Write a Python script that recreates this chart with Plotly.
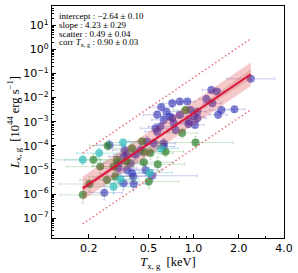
import numpy as np
import plotly.graph_objects as go

# ---------------- data (log10 values) ----------------
blue_log_T = [0.381, 0.118, 0.154, 0.085, 0.125, 0.185, 0.272, 0.163, -0.042, -0.092,
              -0.142, -0.216, -0.020, 0.025, -0.181, -0.243, -0.159, -0.199, -0.092, 0.002,
              0.025, -0.035, 0.009, -0.132, -0.254, -0.120, -0.243, -0.310, -0.266, -0.199,
              -0.199, -0.276, -0.595, -0.500, -0.443, -0.355, -0.388, -0.403, -0.560, -0.460,
              -0.466, -0.421, -0.500, -0.443, -0.410, -0.466, -0.321, -0.142, -0.221, -0.031,
              -0.399]
blue_log_L = [-1.22, -1.68, -1.75, -2.06, -2.23, -2.51, -2.48, -2.71, -2.16, -2.16,
              -2.23, -2.39, -2.51, -2.58, -2.58, -2.71, -2.78, -2.92, -2.71, -2.78,
              -2.85, -3.09, -3.13, -3.06, -3.27, -3.34, -3.41, -3.82, -3.89, -3.89,
              -4.03, -5.24, -5.94, -4.72, -4.37, -4.17, -4.37, -5.27, -3.96, -4.17,
              -4.44, -4.72, -4.93, -5.00, -5.13, -5.55, -5.00, -2.85, -3.20, -2.99,
              -5.58]
blue_err_T = [0.16, 0.06, 0.05, 0.05, 0.06, 0.08, 0.07, 0.06, 0.05, 0.07,
              0.06, 0.08, 0.05, 0.06, 0.07, 0.09, 0.06, 0.08, 0.05, 0.07,
              0.06, 0.05, 0.06, 0.07, 0.10, 0.06, 0.08, 0.12, 0.09, 0.08,
              0.07, 0.30, 0.12, 0.10, 0.09, 0.10, 0.08, 0.11, 0.09, 0.08,
              0.10, 0.09, 0.12, 0.08, 0.10, 0.09, 0.11, 0.06, 0.08, 0.06,
              0.10]
blue_err_L = [0.10, 0.12, 0.10, 0.15, 0.12, 0.15, 0.12, 0.15, 0.10, 0.12,
              0.15, 0.12, 0.10, 0.15, 0.12, 0.15, 0.12, 0.18, 0.12, 0.15,
              0.12, 0.15, 0.12, 0.18, 0.20, 0.15, 0.20, 0.20, 0.18, 0.20,
              0.18, 0.25, 0.30, 0.22, 0.20, 0.20, 0.22, 0.25, 0.20, 0.22,
              0.22, 0.25, 0.25, 0.22, 0.25, 0.28, 0.22, 0.12, 0.15, 0.12,
              0.28]

green_log_T = [-0.054, -0.076, 0.013, -0.332, -0.239, -0.187, -0.288, -0.738, -0.694, -0.667,
               -0.573, -0.622, -0.577, -0.522, -0.448, -0.510, -0.410, -0.343, -0.533, -0.299,
               -0.332]
green_log_L = [-2.51, -3.47, -3.86, -4.68, -4.76, -4.24, -4.30, -6.03, -5.58, -4.58,
               -3.99, -4.86, -5.41, -5.27, -4.65, -4.58, -4.10, -3.82, -4.86, -5.48,
               -4.24]
green_err_T = [0.08, 0.10, 0.25, 0.20, 0.18, 0.12, 0.15, 0.15, 0.20, 0.25,
               0.12, 0.22, 0.18, 0.15, 0.14, 0.16, 0.12, 0.10, 0.14, 0.20,
               0.15]
green_err_L = [0.15, 0.20, 0.25, 0.25, 0.30, 0.20, 0.25, 0.35, 0.30, 0.25,
               0.20, 0.30, 0.30, 0.25, 0.20, 0.25, 0.20, 0.15, 0.25, 0.30,
               0.20]

cyan_log_T = [-0.294, -0.221, -0.738, -0.629, -0.470, -0.533, -0.488]
cyan_log_L = [-5.11, -4.10, -4.58, -4.30, -3.86, -5.69, -5.38]
cyan_err_T = [0.15, 0.12, 0.12, 0.15, 0.10, 0.15, 0.12]
cyan_err_L = [0.20, 0.25, 0.20, 0.20, 0.15, 0.30, 0.25]

# fit results (from the text box)
intercept, intercept_err = -2.64, 0.10
slope, slope_err = 4.23, 0.29
scatter, scatter_err = 0.49, 0.04
corr, corr_err = 0.90, 0.03

x_tick_vals = [0.2, 0.5, 1.0, 2.0, 4.0]
x_tick_text = ["0.2", "0.5", "1.0", "2.0", "4.0"]
y_tick_exps = [-7, -6, -5, -4, -3, -2, -1, 0, 1]

# ---------------- helpers ----------------
def log_err(logv, dex):
    v = 10 ** np.array(logv)
    d = np.array(dex)
    return v, v * (10 ** d - 1), v * (1 - 10 ** (-d))

fig = go.Figure()

groups = [
    (blue_log_T, blue_log_L, blue_err_T, blue_err_L, "rgba(50,50,180,0.6)", "rgba(110,110,210,0.35)"),
    (green_log_T, green_log_L, green_err_T, green_err_L, "rgba(40,125,40,0.68)", "rgba(90,170,90,0.3)"),
    (cyan_log_T, cyan_log_L, cyan_err_T, cyan_err_L, "rgba(50,190,190,0.72)", "rgba(60,190,190,0.35)"),
]
for lt, ll, et, el, col, ecol in groups:
    xv, xp, xm = log_err(lt, et)
    yv, yp, ym = log_err(ll, el)
    fig.add_trace(go.Scatter(
        x=xv, y=yv, mode="markers",
        marker=dict(size=8, color=col, line=dict(width=0)),
        error_x=dict(type="data", array=xp, arrayminus=xm, color=ecol, thickness=1, width=1.5),
        error_y=dict(type="data", array=yp, arrayminus=ym, color=ecol, thickness=1, width=1.5),
        hoverinfo="skip",
    ))

# fit model over the data range
all_lt = blue_log_T + green_log_T + cyan_log_T
lt_grid = np.linspace(min(all_lt), max(all_lt), 60)
T_grid = 10 ** lt_grid
mu = intercept + slope * lt_grid
PIVOT = -0.3
ci = np.sqrt((intercept_err * 0.5) ** 2 + (slope_err * (lt_grid - PIVOT)) ** 2)

def band(lo, hi, color):
    fig.add_trace(go.Scatter(x=T_grid, y=10 ** lo, mode="lines", line=dict(width=0),
                             hoverinfo="skip"))
    fig.add_trace(go.Scatter(x=T_grid, y=10 ** hi, mode="lines", line=dict(width=0),
                             fill="tonexty", fillcolor=color, hoverinfo="skip"))

band(mu - scatter, mu + scatter, "rgba(214,39,40,0.25)")
band(mu - ci, mu + ci, "rgba(190,40,40,0.18)")

for s in (-3, 3):
    fig.add_trace(go.Scatter(x=T_grid, y=10 ** (mu + s * scatter), mode="lines",
                             line=dict(color="rgba(225,80,90,0.85)", width=1.4, dash="1.5px,2.5px"),
                             hoverinfo="skip"))

fig.add_trace(go.Scatter(x=T_grid, y=10 ** mu, mode="lines",
                         line=dict(color="#dc143c", width=2), hoverinfo="skip"))

# ---------------- text box ----------------
lines = [
    f"intercept : \u2212{abs(intercept):.2f} \u00b1 {intercept_err:.2f}",
    f"slope : {slope:.2f} \u00b1 {slope_err:.2f}",
    f"scatter : {scatter:.2f} \u00b1 {scatter_err:.2f}",
    f"corr <i>T</i><sub>x, g</sub> : {corr:.2f} \u00b1 {corr_err:.2f}",
]
ys = [0.958, 0.918, 0.879, 0.841]
for txt, yy in zip(lines, ys):
    fig.add_annotation(x=0.022, y=yy, xref="paper", yref="paper", text=txt,
                       showarrow=False, xanchor="left", yanchor="middle",
                       font=dict(family="Liberation Serif", size=9, color="black"))

# ---------------- axes ----------------
x_minor = [v for v in [0.2, 0.3, 0.4, 0.5, 0.6, 0.7, 0.8, 0.9, 1, 2, 3, 4] if v not in x_tick_vals]
y_minor = [m * 10.0 ** k for k in range(-8, 2) for m in range(2, 10)]

axis_common = dict(type="log", ticks="inside", tickcolor="black", ticklen=4, tickwidth=1,
                   showgrid=False, zeroline=False, showline=True, mirror=True,
                   linecolor="black", linewidth=1.3, automargin=False,
                   ticklabeloverflow="allow",
                   tickfont=dict(family="DejaVu Sans", size=11, color="black"))

fig.update_layout(
    width=298, height=273,
    margin=dict(l=52, r=14, t=6, b=35),
    paper_bgcolor="white", plot_bgcolor="white",
    showlegend=False,
    xaxis=dict(**axis_common, range=[np.log10(0.114), np.log10(4.0)],
               tickmode="array", tickvals=x_tick_vals, ticktext=x_tick_text,
               minor=dict(tickmode="array", tickvals=x_minor, ticks="inside", ticklen=2,
                          tickcolor="black", showgrid=False),
               title=dict(text="<i>T</i><sub>x, g</sub>  [keV]", standoff=0,
                          font=dict(family="Liberation Serif", size=12.5, color="black"))),
    yaxis=dict(**axis_common, range=[-7.82, 1.80],
               tickmode="array", tickvals=[10.0 ** e for e in y_tick_exps],
               ticktext=[f"10<sup>{str(e).replace('-', '\u2212')}</sup>" for e in y_tick_exps],
               minor=dict(tickmode="array", tickvals=y_minor, ticks="inside", ticklen=2,
                          tickcolor="black", showgrid=False),
               title=dict(text="<i>L</i><sub>x, g</sub>  [10<sup>44</sup> erg s<sup>\u22121</sup>]",
                          standoff=0,
                          font=dict(family="Liberation Serif", size=12.5, color="black"))),
)

fig.write_html("out.html", config={"displayModeBar": False},
               post_script="document.body.style.margin='0';document.body.style.padding='0';")
